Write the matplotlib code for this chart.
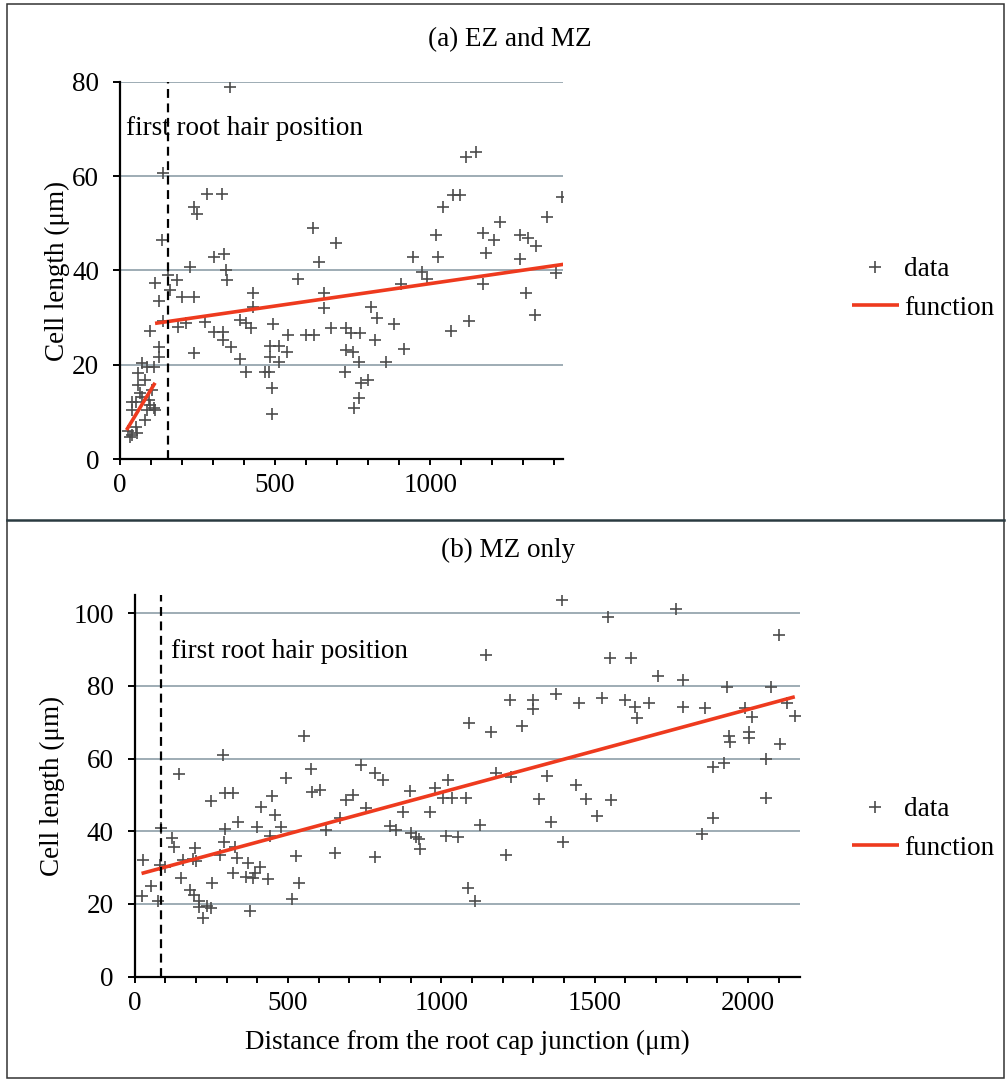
import matplotlib
matplotlib.use("Agg")
import matplotlib.pyplot as plt
from matplotlib.lines import Line2D
from matplotlib.patches import Rectangle

# (a) EZ and MZ : distance from root cap junction (um) and cell length (um)
ez_mz_dist = [
    356, 140, 135, 237, 248, 280, 329, 623, 696, 302, 334, 227, 343, 345, 156, 183,
    113, 642, 574, 127, 162, 199, 239, 428, 428, 658, 658, 140, 97, 186, 212, 275,
    302, 331, 388, 405, 421, 493, 542, 599, 626, 680, 728, 331, 359, 127, 127, 240,
    388, 405, 485, 512, 482, 512, 539, 469, 480, 489, 489, 728, 726, 108,
    70, 86, 59, 81, 102, 59, 65, 38, 51, 92, 108, 86, 113, 81, 38, 27, 38, 54, 32,
    51, 97, 70,
    1114, 1147, 1073, 1095, 1041, 1019, 1024, 946, 974, 989, 906, 809, 830, 884,
    823, 917, 858, 744, 773, 750, 771, 798, 776, 771, 755, 1170, 1205, 1224, 1181,
    1170, 1068, 1125, 1289, 1316, 1341, 1291, 1377, 1424, 1405, 1308, 1338,
]
ez_mz_len = [
    78.9, 60.6, 46.5, 53.5, 52.0, 56.2, 56.2, 49.1, 45.8, 42.9, 43.4, 40.7, 40.1,
    38.0, 39.0, 38.0, 37.3, 41.7, 38.2, 33.6, 35.9, 34.3, 34.3, 35.2, 32.2, 35.2,
    32.0, 29.4, 27.2, 28.0, 28.8, 29.0, 27.0, 27.0, 29.5, 28.8, 27.8, 28.6, 26.3,
    26.3, 26.3, 27.8, 27.8, 25.3, 23.7, 23.7, 21.7, 22.6, 21.2, 18.4, 23.9, 23.9,
    21.7, 20.7, 22.8, 18.6, 18.6, 15.0, 9.7, 23.2, 18.6, 19.6,
    20.3, 19.6, 18.2, 16.8, 14.7, 15.8, 14.0, 12.2, 12.2, 12.6, 10.8, 10.5, 10.5,
    8.3, 10.5, 5.9, 5.2, 5.5, 4.7, 6.8, 11.5, 13.3,
    64.1, 65.0, 56.0, 56.0, 53.5, 47.5, 42.9, 42.9, 39.7, 38.3, 37.1, 32.3, 29.9,
    28.6, 25.3, 23.3, 20.7, 26.7, 26.7, 22.8, 20.7, 16.8, 16.1, 12.9, 10.8, 47.9,
    46.5, 50.3, 43.8, 37.1, 27.2, 29.4, 47.5, 46.8, 45.2, 42.4, 51.3, 55.6, 39.5,
    35.3, 30.6,
]
# fitted functions of panel (a): EZ part and MZ part
a_ez_fit_x = [21, 113]
a_ez_fit_y = [6.2, 16.2]
a_mz_fit_x = [113, 1429]
a_mz_fit_y = [28.8, 41.3]
a_hair = 155

# (b) MZ only
mz_dist = [
    552, 287, 144, 740, 784, 811, 575, 493, 580, 604, 251, 294, 321, 447, 412, 457,
    691, 711, 756, 338, 398, 479, 294, 88, 121, 128, 441, 626, 669, 291, 327, 197,
    158, 191, 202, 280, 333, 370, 409, 528, 653, 784, 28, 82, 99, 321, 365, 387,
    392, 436, 153, 180, 193, 254, 537, 55, 23, 77, 211, 235, 209, 251, 224, 376,
    515, 832, 854, 876, 898, 903, 919, 932, 928, 963, 979, 1006, 1017, 1021,
    1395, 1765, 1544, 2102, 1145, 1550, 1620, 1707, 1789, 1932, 2074, 1226, 1298,
    1298, 1374, 1450, 1526, 1599, 1631, 1637, 1678, 1789, 1859, 1990, 2012, 2128,
    2153, 1091, 1161, 1262, 1939, 1943, 2004, 2004, 2104, 2058, 1885, 1921, 2058,
    1887, 1849, 1034, 1082, 1180, 1229, 1345, 1441, 1319, 1472, 1555, 1508, 1128,
    1357, 1055, 1397, 1211, 1088, 1110,
]
mz_len = [
    66.2, 61.0, 55.7, 58.2, 56.0, 54.1, 57.1, 54.6, 50.9, 51.3, 48.3, 50.4, 50.4,
    49.7, 46.6, 44.5, 48.6, 50.0, 46.3, 42.6, 41.1, 41.1, 40.5, 40.8, 38.1, 35.8,
    38.7, 40.4, 43.6, 37.1, 35.8, 35.3, 32.1, 32.3, 31.7, 33.5, 32.6, 31.2, 30.3,
    33.2, 34.1, 33.0, 32.1, 30.7, 30.1, 28.6, 27.5, 27.1, 28.4, 26.8, 27.2, 23.9,
    22.5, 25.9, 25.9, 25.0, 22.2, 20.9, 20.9, 19.5, 19.3, 18.8, 16.1, 18.2, 21.3,
    41.5, 40.4, 45.4, 51.1, 39.4, 38.5, 35.0, 37.9, 45.3, 52.0, 49.1, 38.7, 54.1,
    103.6, 101.1, 98.9, 94.0, 88.5, 87.6, 87.6, 82.7, 81.6, 79.8, 79.8, 76.1, 76.2,
    73.6, 77.8, 75.4, 76.6, 76.0, 74.3, 71.1, 75.2, 74.3, 73.8, 73.8, 71.4, 75.2,
    71.6, 69.7, 67.4, 69.0, 66.2, 64.7, 67.4, 65.8, 64.0, 59.8, 57.8, 58.8, 49.1,
    43.6, 39.3, 49.1, 49.1, 56.0, 55.0, 55.2, 52.7, 48.8, 48.8, 48.6, 44.2, 41.7,
    42.6, 38.4, 37.1, 33.5, 24.3, 20.9,
]
b_fit_x = [23, 2153]
b_fit_y = [28.4, 77.0]
b_hair = 85

plt.rcParams['font.family'] = ['Liberation Serif', 'DejaVu Serif']
plt.rcParams['font.size'] = 19.5

W, H = 1008, 1082
fig = plt.figure(figsize=(W / 100, H / 100), dpi=100)

GRID = '#8e9ea8'
MARK = '#4d4d4d'
RED = '#ee3a1e'


def style_axis(ax, xmax, ymax, ystep):
    ax.set_xlim(0, xmax)
    ax.set_ylim(0, ymax)
    ax.spines['top'].set_visible(False)
    ax.spines['right'].set_visible(False)
    for s in ('left', 'bottom'):
        ax.spines[s].set_linewidth(1.6)
        ax.spines[s].set_color('black')
    ax.set_yticks(range(0, int(ymax) + 1, ystep))
    ax.set_xticks(range(0, int(xmax) + 1, 500))
    ax.set_xticks(range(0, int(xmax) + 1, 100), minor=True)
    ax.tick_params(axis='y', which='major', direction='out', length=5, width=1.4, pad=10)
    ax.tick_params(axis='x', which='both', direction='out', length=4, width=1.4, pad=6)
    ax.yaxis.grid(True, color=GRID, linewidth=1.2)
    ax.set_axisbelow(True)
    ax.set_ylabel('Cell length (μm)')


# panel (a)
ax1 = fig.add_axes([120 / W, 1 - 459.3 / H, 443 / W, 377.6 / H])
style_axis(ax1, 1428, 80, 20)
ax1.plot(ez_mz_dist, ez_mz_len, linestyle='none', marker='+', ms=8.5, mew=1.2,
         color=MARK, label='data')
ax1.plot(a_ez_fit_x, a_ez_fit_y, color=RED, lw=2.6, solid_capstyle='butt', label='function')
ax1.plot(a_mz_fit_x, a_mz_fit_y, color=RED, lw=2.6, solid_capstyle='butt')
ax1.axvline(a_hair, color='black', lw=1.6, ls=(0, (4, 2.5)))
ax1.text(18, 70, 'first root hair position', ha='left', va='center')
ax1.yaxis.set_label_coords(-0.113, 0.5)
ax1.legend(loc='center left', bbox_to_anchor=(838 / W, 1 - 289 / H),
           bbox_transform=fig.transFigure, frameon=False, borderpad=0,
           handlelength=1.75, handletextpad=0.2, labelspacing=0.5)

# panel (b)
ax2 = fig.add_axes([134.5 / W, 1 - 976.7 / H, 665.5 / W, 381.7 / H])
style_axis(ax2, 2170, 105, 20)
ax2.plot(mz_dist, mz_len, linestyle='none', marker='+', ms=8.5, mew=1.2,
         color=MARK, label='data')
ax2.plot(b_fit_x, b_fit_y, color=RED, lw=2.6, solid_capstyle='butt', label='function')
ax2.axvline(b_hair, color='black', lw=1.6, ls=(0, (4, 2.5)))
ax2.text(120, 89.5, 'first root hair position', ha='left', va='center')
ax2.yaxis.set_label_coords(-0.104, 0.5)
ax2.set_xlabel('Distance from the root cap junction (μm)', labelpad=10)
ax2.legend(loc='center left', bbox_to_anchor=(838 / W, 1 - 829 / H),
           bbox_transform=fig.transFigure, frameon=False, borderpad=0,
           handlelength=1.75, handletextpad=0.2, labelspacing=0.5)

# panel titles and frames
fig.text(510 / W, 1 - 40 / H, '(a) EZ and MZ', ha='center', va='center')
fig.text(508 / W, 1 - 550 / H, '(b) MZ only', ha='center', va='center')
fig.add_artist(Rectangle((7 / W, 4 / H), 997 / W, 1 - 8 / H, transform=fig.transFigure,
                         fill=False, edgecolor='#333333', lw=1.1))
fig.add_artist(Line2D([7 / W, 1004 / W], [1 - 520 / H, 1 - 520 / H],
                      transform=fig.transFigure, color='#2a3a40', lw=1.8))

fig.savefig('out.png', dpi=100)
